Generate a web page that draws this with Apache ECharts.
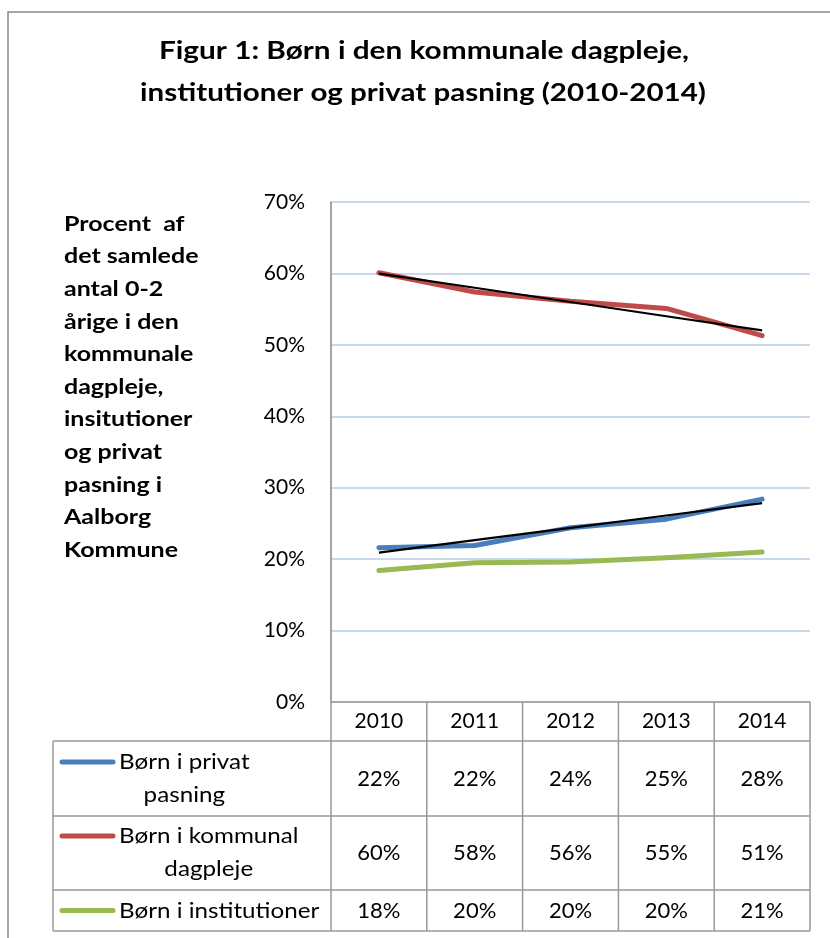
<!DOCTYPE html>
<html><head><meta charset="utf-8">
<script src="https://cdn.jsdelivr.net/npm/echarts@6/dist/echarts.min.js"></script>
<style>html,body{margin:0;padding:0;background:#fff}#c{width:830px;height:938px}</style>
</head><body><div id="c"></div>
<script>
// ---- data ----
const years = ['2010', '2011', '2012', '2013', '2014'];
const seriesNames = ['Børn i privat pasning', 'Børn i kommunal dagpleje', 'Børn i institutioner'];
const privat = [21.6, 21.9, 24.4, 25.6, 28.4];
const kommunal = [60.1, 57.4, 56.1, 55.1, 51.3];
const institutioner = [18.4, 19.5, 19.6, 20.2, 21.0];
const tablePrivat = ['22%', '22%', '24%', '25%', '28%'];
const tableKommunal = ['60%', '58%', '56%', '55%', '51%'];
const tableInstitutioner = ['18%', '20%', '20%', '20%', '21%'];
const legendLines = [['Børn i privat', 'pasning'], ['Børn i kommunal', 'dagpleje'], ['Børn i institutioner']];
const yMin = 0, yMax = 70, yStep = 10;
const titleLines = ['Figur 1: Børn i den kommunale dagpleje,', 'institutioner og privat pasning (2010-2014)'];
const yTitleLines = ['Procent  af', 'det samlede', 'antal 0-2', 'årige i den', 'kommunale', 'dagpleje,', 'insitutioner', 'og privat', 'pasning i', 'Aalborg', 'Kommune'];

// ---- styles ----
const FONT = 'Lato';
const colors = ['#4A7EBB', '#BE4B48', '#98B954'];

function linearTrend(vals) {
  const n = vals.length;
  let sx = 0, sy = 0;
  vals.forEach((v, i) => { sx += i; sy += v; });
  const mx = sx / n, my = sy / n;
  let num = 0, den = 0;
  vals.forEach((v, i) => { num += (i - mx) * (v - my); den += (i - mx) * (i - mx); });
  const b = num / den, a = my - b * mx;
  return vals.map((_, i) => a + b * i);
}

const chart = echarts.init(document.getElementById('c'), null, { renderer: 'canvas' });

const lineSeries = (name, data, color) => ({
  name, type: 'line', data, symbol: 'none', smooth: false,
  lineStyle: { color, width: 5, cap: 'round', join: 'round' },
  itemStyle: { color }, z: 2
});
const trendSeries = (data) => ({
  type: 'line', data: linearTrend(data), symbol: 'none',
  lineStyle: { color: '#000', width: 2.2 }, z: 3, silent: true
});

chart.setOption({
  animation: false,
  backgroundColor: '#fff',
  grid: { left: 331, right: 20, top: 202, bottom: 236, containLabel: false },
  xAxis: {
    type: 'category', data: years, boundaryGap: true,
    axisLine: { show: true, lineStyle: { color: '#999', width: 1.5 } },
    axisTick: { show: false },
    axisLabel: { fontFamily: FONT, fontSize: 21, color: '#000', margin: 9 }
  },
  yAxis: {
    type: 'value', min: yMin, max: yMax, interval: yStep,
    axisLine: { show: true, lineStyle: { color: '#868686', width: 1.5 } },
    axisTick: { show: false },
    axisLabel: { fontFamily: FONT, fontSize: 21, color: '#000', margin: 26, formatter: '{value}%' },
    splitLine: { lineStyle: { color: '#B9CDE5', width: 1.5 } }
  },
  series: [
    lineSeries(seriesNames[0], privat, colors[0]),
    lineSeries(seriesNames[1], kommunal, colors[1]),
    lineSeries(seriesNames[2], institutioner, colors[2]),
    trendSeries(kommunal),
    trendSeries(privat)
  ]
});

// ---- table & annotations via graphic ----
const measure = (() => {
  const ctx = document.createElement('canvas').getContext('2d');
  return (txt, font) => { ctx.font = font; return ctx.measureText(txt).width; };
})();

const c0 = chart.convertToPixel({ xAxisIndex: 0 }, 0);
const c1 = chart.convertToPixel({ xAxisIndex: 0 }, 1);
const bw = c1 - c0;
const plotL = c0 - bw / 2;
const plotR = plotL + bw * years.length;
const yBase = chart.convertToPixel({ yAxisIndex: 0 }, yMin);
const tableLeft = 53;
const rowEdges = [yBase + 39, yBase + 114, yBase + 188, yBase + 229];
const gridColor = '#999';
const els = [];
const line = (x1, y1, x2, y2, stroke, lw) => els.push({
  type: 'line', silent: true, z: 10,
  shape: { x1, y1, x2, y2 }, style: { stroke, lineWidth: lw }
});
const text = (x, y, str, font, opts) => els.push(Object.assign({
  type: 'text', silent: true, z: 11, x, y,
  style: Object.assign({ x: 0, y: 0, text: str, font, fill: '#000', align: 'center', verticalAlign: 'middle' }, (opts && opts.style) || {})
}, (opts && opts.el) || {}));

// title
text(424, 51, titleLines[0], 'bold 24px ' + FONT, { el: { scaleX: 1.24 } });
text(423, 93, titleLines[1], 'bold 24px ' + FONT, { el: { scaleX: 1.23 } });

// horizontal rules
rowEdges.forEach(y => line(tableLeft, y, plotR, y, gridColor, 1.5));
// vertical rules
line(tableLeft, rowEdges[0], tableLeft, rowEdges[3], gridColor, 1.5);
line(plotL, yBase, plotL, rowEdges[3], '#999', 1.5);
for (let k = 1; k <= years.length; k++) line(plotL + k * bw, yBase, plotL + k * bw, rowEdges[3], gridColor, 1.5);

// values
const tables = [tablePrivat, tableKommunal, tableInstitutioner];
tables.forEach((row, r) => {
  const yc = (rowEdges[r] + rowEdges[r + 1]) / 2;
  row.forEach((t, i) => text(c0 + i * bw, yc, t, '22px ' + FONT));
});

// legend keys in table
const firstLineY = [rowEdges[0] + 21, rowEdges[1] + 20, (rowEdges[2] + rowEdges[3]) / 2];
const textX = 119, lsx = 1.1;
legendLines.forEach((lines, r) => {
  const y = firstLineY[r];
  els.push({
    type: 'line', silent: true, z: 11,
    shape: { x1: 62, y1: y, x2: 113, y2: y },
    style: { stroke: colors[r], lineWidth: 5, lineCap: 'round' }
  });
  const w = measure(lines[0], '22px ' + FONT) * lsx;
  text(textX + w / 2, y - 16.5, lines.join('\n'), '22px ' + FONT,
    { el: { scaleX: lsx }, style: { verticalAlign: 'top', lineHeight: 33 } });
});

// y axis title block
text(64, 208, yTitleLines.join('\n'), 'bold 20px ' + FONT,
  { el: { scaleX: 1.25 }, style: { align: 'left', verticalAlign: 'top', lineHeight: 32.6 } });

// outer frame
els.push({
  type: 'rect', silent: true, z: 0,
  shape: { x: 8, y: 12, width: 900, height: 1000 },
  style: { fill: 'none', stroke: '#898989', lineWidth: 1.5 }
});

chart.setOption({ graphic: { elements: els } });
</script>
</body></html>
